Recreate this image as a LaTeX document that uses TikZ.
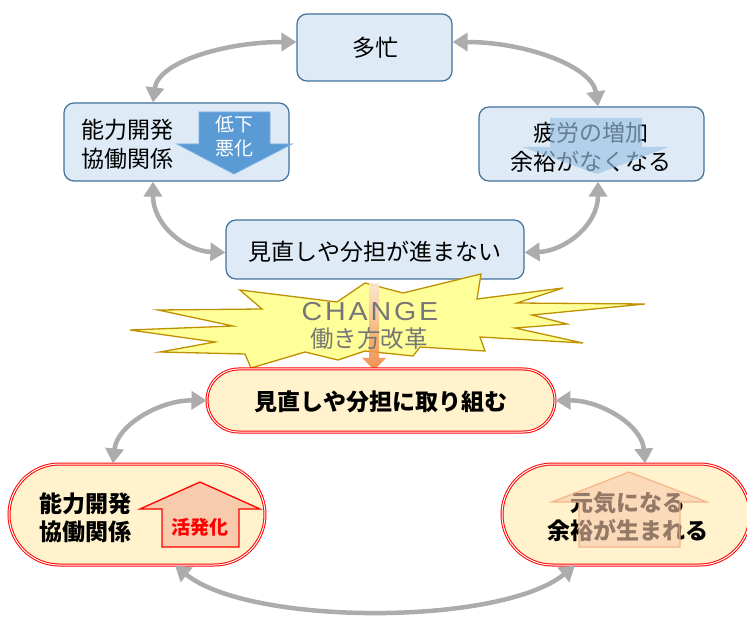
\documentclass[tikz,border=0pt]{standalone}
\usepackage{fontspec}
\newfontfamily\jp{Noto Sans CJK JP}
\newfontfamily\chg{Liberation Sans}[FakeStretch=1.1,LetterSpace=11]
\usetikzlibrary{arrows.meta,shapes.misc}
\definecolor{bfill}{HTML}{DEEBF7}
\definecolor{bline}{HTML}{41719C}
\definecolor{darr}{HTML}{5B9BD5}
\definecolor{darrl}{HTML}{7DAEE0}
\definecolor{larr}{HTML}{9DC3E6}
\definecolor{gconn}{HTML}{AEABAB}
\definecolor{yfill}{HTML}{FFF2CC}
\definecolor{sfill}{HTML}{F8CBAD}
\definecolor{sline}{HTML}{F4B183}
\definecolor{burstfill}{HTML}{FFFF99}
\definecolor{burstline}{HTML}{BF9000}
\definecolor{org}{HTML}{ED7D31}
\definecolor{lpink}{HTML}{FBE5D6}
\definecolor{txtg}{HTML}{767676}
\begin{document}
\begin{tikzpicture}[x=1pt,y=-1pt,
  blubox/.style={draw=bline, fill=bfill, line width=1.2pt, rounded corners=10pt, inner sep=0pt},
  redbox/.style={rounded rectangle, draw=red, double=white, double distance=1pt, line width=1pt, fill=yfill, inner sep=0pt},
  jtxt/.style={font=\jp\fontsize{23}{29}\selectfont, align=center, inner sep=0pt},
  jbold/.style={jtxt, font=\jp\bfseries\fontsize{23}{28}\selectfont},
  conn/.style={draw=gconn, line width=4.5pt, {Triangle[width=18pt,length=15pt]}-{Triangle[width=18pt,length=15pt]}},
  burst/.style={draw=burstline, fill=burstfill, line width=1.3pt, line join=miter}
]
\useasboundingbox (0,0) rectangle (747,617);

% upper boxes
\node[blubox, minimum width=155pt, minimum height=67pt] (top) at (374.5,47.5) {};
\node[jtxt] (toptxt) at (375,48) {多忙};
\node[blubox, minimum width=225pt, minimum height=78pt] (lb) at (176.5,142) {};
\node[jtxt] (lbtxt) at (127,144) {能力開発\\協働関係};
\draw[fill=darr, draw=darrl, line width=0.8pt] (199,112) -- (270,112) -- (270,144) -- (292,144) -- (234,174) -- (177,144) -- (199,144) -- cycle;
\node[jtxt, text=white, font=\jp\fontsize{19}{24}\selectfont] (lbarr) at (234,136) {低下\\悪化};
\node[blubox, minimum width=225pt, minimum height=74pt] (rb) at (591.5,144) {};
\node[jtxt] (rbtxt) at (591,147) {疲労の増加\\余裕がなくなる};
\fill[larr, fill opacity=0.65] (550,118) -- (642,118) -- (642,147) -- (669,147) -- (597,174) -- (522,147) -- (550,147) -- cycle;
\node[blubox, minimum width=298pt, minimum height=59pt] (mid) at (375,249.5) {};
\node[jtxt] (midtxt) at (375,252) {見直しや分担が進まない};

% upper connectors
\draw[conn] ([xshift=-23.5pt]lb.north) .. controls (158,62) and (225,42) .. ([yshift=5.5pt]top.west);
\draw[conn] ([yshift=5.5pt]top.east) .. controls (525,42) and (592,66) .. ([xshift=6.5pt]rb.north);
\draw[conn] ([xshift=-23.5pt]lb.south) .. controls (153,225) and (185,251) .. ([yshift=-3pt]mid.west);
\draw[conn] ([xshift=6.5pt]rb.south) .. controls (598,225) and (565,251) .. ([yshift=-3pt]mid.east);

% burst
\draw[burst] (240,290) -- (337,302) -- (365,283) -- (403,293) -- (481,274) -- (477,299) -- (563,288) -- (517,303) -- (645,304) -- (532,315) -- (567,324) -- (515,328) -- (583,343) -- (480,337) -- (485,351) -- (420,347) -- (413,356) -- (365,351) -- (338,360) -- (305,352) -- (251,368) -- (245,354) -- (160,352) -- (215,342) -- (130,330) -- (233,326) -- (158,310) -- (262,309) -- cycle;
\shade[top color=lpink, bottom color=org, opacity=0.85] (369,283) -- (379,283) -- (379,358) -- (386,358) -- (374,370) -- (362,358) -- (369,358) -- cycle;
\node[inner sep=0pt, text=txtg, font=\chg\fontsize{26}{26}\selectfont] (chtxt) at (370,312) {CHANGE};
\node[inner sep=0pt, text=txtg, font=\jp\fontsize{23.5}{24}\selectfont] (hatxt) at (369,339) {働き方改革};

% lower boxes
\node[redbox, minimum width=348pt, minimum height=63pt] (act) at (381,400.5) {};
\node[jbold] (acttxt) at (381,402) {見直しや分担に取り組む};
\node[redbox, minimum width=256pt, minimum height=101pt] (bl) at (137,514.5) {};
\node[jbold] (bltxt) at (85,518) {能力開発\\協働関係};
\draw[fill=sfill, draw=red, line width=1.3pt] (162,547) -- (239,547) -- (239,509) -- (260,509) -- (200,482) -- (140,509) -- (162,509) -- cycle;
\node[inner sep=0pt, text=red, font=\jp\bfseries\fontsize{19}{19}\selectfont] (bltag) at (200,527) {活発化};
\node[redbox, minimum width=248pt, minimum height=101pt] (br) at (626,514.5) {};
\node[jbold] (brtxt) at (628,517) {元気になる\\余裕が生まれる};
\draw[fill=sfill, fill opacity=0.6, draw=sline, draw opacity=0.9, line width=1.2pt] (579,547) -- (680,547) -- (680,502) -- (707,502) -- (629,472) -- (552,502) -- (579,502) -- cycle;

% lower connectors
\draw[conn] (act.west) .. controls (160,400) and (117,425) .. ([xshift=-24pt]bl.north);
\draw[conn] (act.east) .. controls (600,400) and (642,425) .. ([xshift=19pt]br.north);
\draw[conn] ([xshift=38pt]bl.south) .. controls (250,626) and (500,626) .. ([xshift=-51pt]br.south);
\end{tikzpicture}
\end{document}
